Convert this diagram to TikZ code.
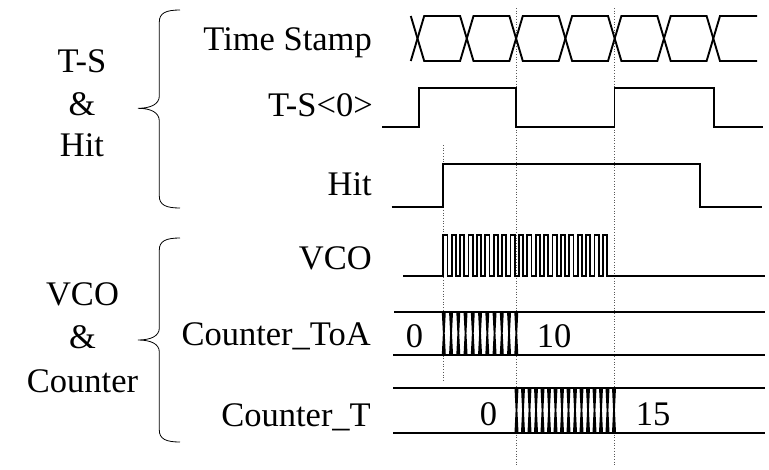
\documentclass[tikz,border=0pt]{standalone}
\usepackage{fontspec}
\setmainfont{Liberation Serif}
\begin{document}
\begin{tikzpicture}[x=1pt,y=-1pt,
  wave/.style={line width=1.9pt, line join=miter},
  bar/.style={line width=1.8pt},
  guide/.style={dotted, line width=0.7pt, black!65},
  brace/.style={line width=0.8pt},
  lbl/.style={font=\fontsize{34.5}{40}\selectfont, inner sep=0pt}]
\useasboundingbox (0,0) rectangle (769,469);

% time guides
\draw[guide] (443.3,145) -- (443.3,381);
\draw[guide] (516,8) -- (516,466);
\draw[guide] (614.5,8) -- (614.5,466);

% signal names
\node[lbl, anchor=base east] (ts)   at (372,50)  {Time Stamp};
\node[lbl, anchor=base east] (ts0)  at (373,116) {T-S<0>};
\node[lbl, anchor=base east] (hit)  at (372,195) {Hit};
\node[lbl, anchor=base east] (vco)  at (372,269) {VCO};
\node[lbl, anchor=base east] (cta)  at (371,345) {Counter\_ToA};
\node[lbl, anchor=base east] (ct)   at (371,426) {Counter\_T};

% group names
\node[lbl, anchor=base] (g1a) at (82,72.7)  {T-S};
\node[lbl, anchor=base] (g1b) at (82,115)   {\&};
\node[lbl, anchor=base] (g1c) at (82,156.7) {Hit};
\node[lbl, anchor=base] (g2a) at (82.5,305) {VCO};
\node[lbl, anchor=base] (g2b) at (82.5,348) {\&};
\node[lbl, anchor=base] (g2c) at (82.5,392) {Counter};

% braces
\draw[brace] (180,10) .. controls (166,10) and (159.3,13) .. (159.3,22)
  -- (159.3,96) .. controls (159.3,104) and (151,108.3) .. (138,108.3)
  .. controls (151,108.3) and (159.3,112.6) .. (159.3,121)
  -- (159.3,196) .. controls (159.3,205) and (166,208) .. (180,208);
\draw[brace] (180,238) .. controls (166,238) and (159.3,241) .. (159.3,250)
  -- (159.3,328) .. controls (159.3,336) and (151,340) .. (138,340)
  .. controls (151,340) and (159.3,344) .. (159.3,352)
  -- (159.3,430) .. controls (159.3,439) and (166,442) .. (180,442);

% Time Stamp bus
\draw[wave] (410.8,16) -- (424.2,61) -- (460.1,61) -- (473.5,16) -- (509.4,16)
  -- (522.8,61) -- (558.7,61) -- (572.1,16) -- (608,16) -- (621.4,61)
  -- (657.3,61) -- (670.7,16) -- (706.6,16) -- (720,61) -- (757,61);
\draw[wave] (410.8,61) -- (424.2,16) -- (460.1,16) -- (473.5,61) -- (509.4,61)
  -- (522.8,16) -- (558.7,16) -- (572.1,61) -- (608,61) -- (621.4,16)
  -- (657.3,16) -- (670.7,61) -- (706.6,61) -- (720,16) -- (757,16);

% T-S<0>
\draw[wave] (382,127) -- (419,127) -- (419,88) -- (516,88) -- (516,127)
  -- (614.5,127) -- (614.5,88) -- (714,88) -- (714,127) -- (763,127);

% Hit
\draw[wave] (391.7,206.7) -- (443.3,206.7) -- (443.3,164.3) -- (700,164.3)
  -- (700,206.7) -- (761.7,206.7);

% VCO
\draw[wave] (403,275.7) -- (443.3,275.7)
  \foreach \k in {1,...,20} { -- ++(0,-40.7) -- ++(4.2,0) -- ++(0,40.7) -- ++(4.2,0) }
  -- (765,275.7);

% Counter_ToA bus
\draw[wave] (394,311.7) -- (765,311.7);
\draw[wave] (393,355) -- (765,355);
\foreach \k in {0,...,10} {
  \pgfmathsetmacro\xc{443.8+7.25*\k}
  \draw[bar] (\xc-1.1,311.7) -- (\xc+1.1,355) (\xc-1.1,355) -- (\xc+1.1,311.7);
}
\node[lbl, anchor=base] (cta0)  at (414.5,347.3) {0};
\node[lbl, anchor=base] (cta10) at (554,347.3)   {10};

% Counter_T bus
\draw[wave] (393,387.7) -- (765,387.7);
\draw[wave] (393,432.7) -- (765,432.7);
\foreach \k in {0,...,15} {
  \pgfmathsetmacro\xc{516.5+6.5*\k}
  \draw[bar] (\xc-1.1,387.7) -- (\xc+1.1,432.7) (\xc-1.1,432.7) -- (\xc+1.1,387.7);
}
\node[lbl, anchor=base] (ct0)  at (488.5,425) {0};
\node[lbl, anchor=base] (ct15) at (653,425)   {15};
\end{tikzpicture}
\end{document}
